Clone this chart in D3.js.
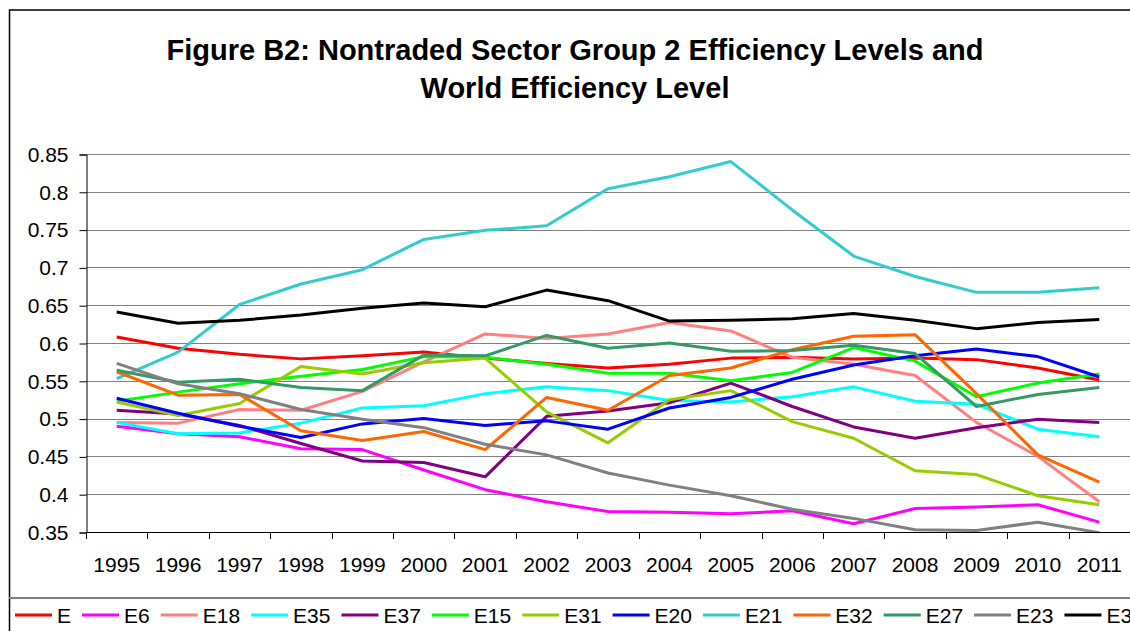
<!DOCTYPE html>
<html>
<head>
<meta charset="utf-8">
<script src="https://cdn.jsdelivr.net/npm/d3@7"></script>
<style>
  html, body { margin: 0; padding: 0; background: #fff; }
  svg { display: block; font-family: Arial, "Liberation Sans", sans-serif; }
</style>
</head>
<body>
<div id="chart-line"></div>
<script>
// Categories (x axis)
var years = ["1995", "1996", "1997", "1998", "1999", "2000", "2001", "2002",
    "2003", "2004", "2005", "2006", "2007", "2008", "2009", "2010", "2011"];

// Y tick labels
var yTicks = [0.35, 0.4, 0.45, 0.5, 0.55, 0.6, 0.65, 0.7, 0.75, 0.8, 0.85];

// Series names, in legend order
var seriesNames = ["E", "E6", "E18", "E35", "E37", "E15", "E31", "E20", "E21", "E32", "E27", "E23", "E3"];

// Series colors (Excel default palette)
var seriesColors = ["#ff0000", "#ff00ff", "#ff8080", "#00ffff", "#800080", "#00ff00",
    "#99cc00", "#0000ff", "#33cccc", "#ff6600", "#339966", "#808080", "#000000"];

// Series values, one array per series
var valE   = [0.608, 0.593, 0.585, 0.579, 0.583, 0.588, 0.580, 0.573, 0.567, 0.572, 0.580, 0.581, 0.579, 0.580, 0.578, 0.567, 0.551];
var valE6  = [0.490, 0.480, 0.476, 0.460, 0.459, 0.432, 0.406, 0.390, 0.377, 0.376, 0.374, 0.378, 0.361, 0.381, 0.383, 0.386, 0.363];
var valE18 = [0.495, 0.494, 0.512, 0.511, 0.536, 0.575, 0.612, 0.606, 0.612, 0.627, 0.616, 0.581, 0.572, 0.557, 0.495, 0.450, 0.390];
var valE35 = [0.495, 0.480, 0.481, 0.494, 0.514, 0.517, 0.533, 0.542, 0.537, 0.524, 0.522, 0.529, 0.542, 0.523, 0.519, 0.486, 0.476];
var valE37 = [0.511, 0.506, 0.491, 0.467, 0.444, 0.442, 0.423, 0.503, 0.510, 0.521, 0.547, 0.516, 0.489, 0.474, 0.488, 0.499, 0.495];
var valE15 = [0.523, 0.535, 0.546, 0.556, 0.565, 0.582, 0.581, 0.572, 0.560, 0.560, 0.550, 0.561, 0.594, 0.576, 0.529, 0.547, 0.559];
var valE31 = [0.522, 0.504, 0.520, 0.569, 0.559, 0.574, 0.580, 0.509, 0.468, 0.525, 0.537, 0.496, 0.474, 0.431, 0.426, 0.398, 0.386];
var valE20 = [0.527, 0.507, 0.490, 0.475, 0.493, 0.500, 0.491, 0.497, 0.486, 0.514, 0.528, 0.552, 0.571, 0.583, 0.592, 0.582, 0.555];
var valE21 = [0.553, 0.588, 0.651, 0.678, 0.697, 0.737, 0.749, 0.755, 0.804, 0.820, 0.840, 0.776, 0.715, 0.688, 0.667, 0.667, 0.673];
var valE32 = [0.562, 0.531, 0.532, 0.484, 0.471, 0.483, 0.459, 0.528, 0.511, 0.557, 0.567, 0.591, 0.609, 0.611, 0.533, 0.452, 0.416];
var valE27 = [0.564, 0.548, 0.552, 0.541, 0.537, 0.584, 0.583, 0.610, 0.593, 0.600, 0.589, 0.590, 0.597, 0.586, 0.516, 0.532, 0.541];
var valE23 = [0.573, 0.546, 0.533, 0.512, 0.499, 0.488, 0.466, 0.452, 0.428, 0.412, 0.398, 0.380, 0.368, 0.353, 0.352, 0.363, 0.349];
var valE3  = [0.641, 0.626, 0.630, 0.637, 0.646, 0.653, 0.648, 0.670, 0.656, 0.629, 0.630, 0.632, 0.639, 0.630, 0.619, 0.627, 0.631];

var seriesValues = [valE, valE6, valE18, valE35, valE37, valE15, valE31, valE20, valE21, valE32, valE27, valE23, valE3];

var chartTitle = ["Figure B2: Nontraded Sector Group 2 Efficiency Levels and", "World Efficiency Level"];

// Drawing area
var W = 1130, H = 631;
var plot = { left: 86, right: 1130, top: 154, bottom: 532 };

var svg = d3.select("#chart-line").append("svg")
    .attr("width", W)
    .attr("height", H);

// Outer chart border (right side is cut off in the original)
svg.append("path")
    .attr("d", "M" + W + ",10H9.5V" + H)
    .style("fill", "none")
    .style("stroke", "#000")
    .style("stroke-width", 1.5);

// Title
svg.append("g").attr("class", "title")
    .selectAll("text")
    .data(chartTitle)
    .enter().append("text")
    .attr("x", 575)
    .attr("y", function(d, i) { return 60 + i * 38; })
    .attr("text-anchor", "middle")
    .style("font-size", "29px")
    .style("font-weight", "bold")
    .text(String);

// Scales
var x = d3.scaleBand().domain(years).range([plot.left, plot.right]);
var y = d3.scaleLinear().domain([0.35, 0.85]).range([plot.bottom, plot.top]);

// Gridlines
svg.append("g").attr("class", "grid")
    .selectAll("line")
    .data(yTicks)
    .enter().append("line")
    .attr("x1", plot.left)
    .attr("x2", plot.right)
    .attr("y1", function(d) { return Math.round(y(d)) + 0.5; })
    .attr("y2", function(d) { return Math.round(y(d)) + 0.5; })
    .style("stroke", "#808080")
    .style("stroke-width", 1.2);

// Y axis
var yAxis = svg.append("g")
    .attr("transform", "translate(" + (plot.left + 0.5) + ",0.5)")
    .call(d3.axisLeft(y).tickValues(yTicks).tickSize(7).tickPadding(11)
        .tickFormat(function(d) { return String(+d.toFixed(2)); }));
yAxis.select(".domain").style("stroke", "#000");
yAxis.selectAll(".tick line").style("stroke", "#000");
yAxis.selectAll("text")
    .style("font-size", "21px")
    .style("font-family", "Arial, 'Liberation Sans', sans-serif")
    .attr("fill", "#000");

// X axis: ticks on band boundaries, labels at band centres
var xAxisG = svg.append("g").attr("class", "x-axis");
xAxisG.append("line")
    .attr("x1", plot.left)
    .attr("x2", plot.right)
    .attr("y1", plot.bottom + 0.5)
    .attr("y2", plot.bottom + 0.5)
    .style("stroke", "#000");
xAxisG.selectAll(".xtick")
    .data(years)
    .enter().append("line")
    .attr("class", "xtick")
    .attr("x1", function(d) { return Math.round(x(d)) + 0.5; })
    .attr("x2", function(d) { return Math.round(x(d)) + 0.5; })
    .attr("y1", plot.bottom)
    .attr("y2", plot.bottom + 7)
    .style("stroke", "#000");
xAxisG.selectAll(".xlabel")
    .data(years)
    .enter().append("text")
    .attr("class", "xlabel")
    .attr("x", function(d) { return x(d) + x.bandwidth() / 2; })
    .attr("y", 572)
    .attr("text-anchor", "middle")
    .style("font-size", "21px")
    .text(String);

// Lines
svg.append("clipPath").attr("id", "plot-clip")
    .append("rect")
    .attr("x", plot.left)
    .attr("y", plot.top - 10)
    .attr("width", plot.right - plot.left)
    .attr("height", plot.bottom - plot.top + 10);

var line = d3.line()
    .x(function(d, i) { return x(years[i]) + x.bandwidth() / 2; })
    .y(function(d) { return y(d); });

svg.append("g").attr("clip-path", "url(#plot-clip)")
    .selectAll(".series")
    .data(seriesValues)
    .enter().append("path")
    .attr("class", "series")
    .attr("d", line)
    .style("fill", "none")
    .style("stroke", function(d, i) { return seriesColors[i]; })
    .style("stroke-width", 3)
    .style("stroke-linejoin", "round");

// Legend box (top border only, the rest is clipped by the page)
svg.append("line")
    .attr("x1", 9)
    .attr("x2", W)
    .attr("y1", 598)
    .attr("y2", 598)
    .style("stroke", "#808080")
    .style("stroke-width", 2);

var legend = svg.append("g").attr("class", "legend");
var lx = 15;
seriesNames.forEach(function(name, i) {
    legend.append("line")
        .attr("x1", lx)
        .attr("x2", lx + 37)
        .attr("y1", 615)
        .attr("y2", 615)
        .style("stroke", seriesColors[i])
        .style("stroke-width", 3);
    var t = legend.append("text")
        .attr("x", lx + 42)
        .attr("y", 623)
        .style("font-size", "21px")
        .text(name);
    lx += 42 + t.node().getComputedTextLength() + 11;
});
</script>
</body>
</html>
